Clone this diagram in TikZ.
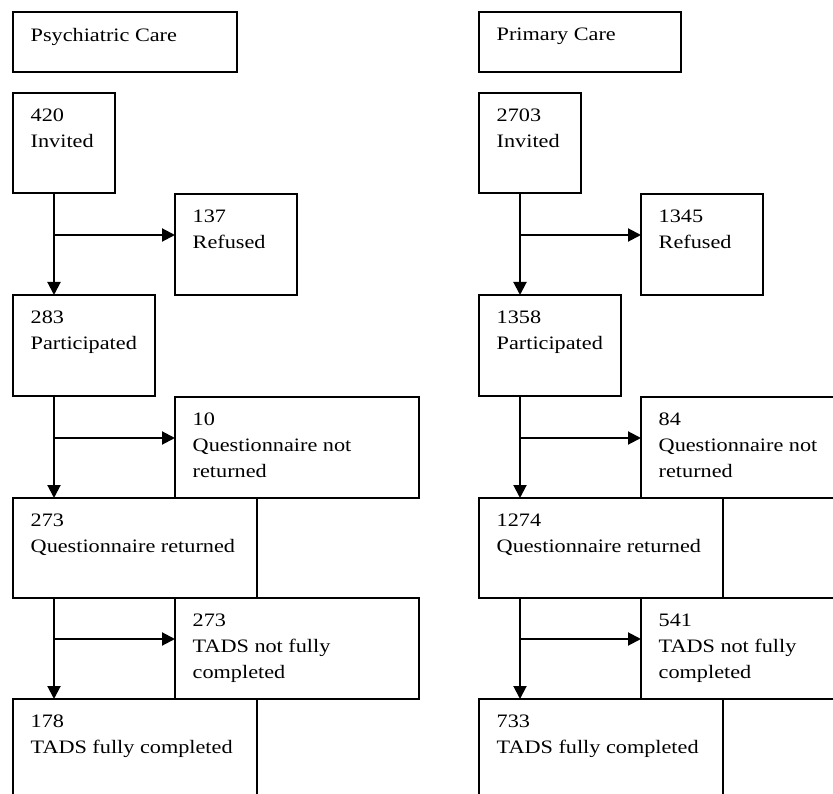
\documentclass[tikz,border=0pt]{standalone}
\usepackage{fontspec}
\setmainfont{Liberation Serif}[FakeStretch=1.17]
\usetikzlibrary{arrows.meta}
\tikzset{
  box/.style={draw, line width=1.4pt, anchor=north west, inner sep=0pt, outer sep=0pt},
  txt/.style={anchor=north west, align=left, inner sep=0pt, font=\fontsize{19}{26}\selectfont},
  flow/.style={-{Triangle[length=13pt,width=13pt]}, line width=2pt},
}
\begin{document}
\begin{tikzpicture}[x=1pt,y=-1pt]
\useasboundingbox (0,0) rectangle (833,794);
\clip (0,0) rectangle (833,794);
% psychiatric care
\node[box, minimum width=224pt, minimum height=60pt] (head1) at (13,12) {};
\node[box, minimum width=102pt, minimum height=100pt] (inv1) at (13,93) {};
\node[box, minimum width=122pt, minimum height=101pt] (ref1) at (175,194) {};
\node[box, minimum width=142pt, minimum height=101pt] (part1) at (13,295) {};
\node[box, minimum width=244pt, minimum height=101pt] (notret1) at (175,397) {};
\node[box, minimum width=244pt, minimum height=100pt] (ret1) at (13,498) {};
\node[box, minimum width=244pt, minimum height=101pt] (notcomp1) at (175,598) {};
\node[box, minimum width=244pt, minimum height=120pt] (comp1) at (13,699) {};
\node[txt] (head1t) at ([xshift=17.5pt,yshift=-16pt]head1.north west) {Psychiatric Care};
\node[txt] (inv1t) at ([xshift=17.5pt,yshift=-16pt]inv1.north west) {420\\Invited};
\node[txt] (ref1t) at ([xshift=17.5pt,yshift=-16pt]ref1.north west) {137\\Refused};
\node[txt] (part1t) at ([xshift=17.5pt,yshift=-16pt]part1.north west) {283\\Participated};
\node[txt] (notret1t) at ([xshift=17.5pt,yshift=-16pt]notret1.north west) {10\\Questionnaire not\\returned};
\node[txt] (ret1t) at ([xshift=17.5pt,yshift=-16pt]ret1.north west) {273\\Questionnaire returned};
\node[txt] (notcomp1t) at ([xshift=17.5pt,yshift=-16pt]notcomp1.north west) {273\\TADS not fully\\completed};
\node[txt] (comp1t) at ([xshift=17.5pt,yshift=-16pt]comp1.north west) {178\\TADS fully completed};
\coordinate (s1) at ([xshift=41pt]inv1.south west);
\coordinate (r1) at ([yshift=-41pt]ref1.north west);
\coordinate (r2) at ([yshift=-41pt]notret1.north west);
\coordinate (r3) at ([yshift=-41pt]notcomp1.north west);
\draw[flow] (s1) -- (s1 |- part1.north);
\draw[flow] (s1 |- part1.south) -- (s1 |- ret1.north);
\draw[flow] (s1 |- ret1.south) -- (s1 |- comp1.north);
\draw[flow] (s1 |- r1) -- (r1);
\draw[flow] (s1 |- r2) -- (r2);
\draw[flow] (s1 |- r3) -- (r3);
% primary care
\node[box, minimum width=202pt, minimum height=60pt] (head2) at (479,12) {};
\node[box, minimum width=102pt, minimum height=100pt] (inv2) at (479,93) {};
\node[box, minimum width=122pt, minimum height=101pt] (ref2) at (641,194) {};
\node[box, minimum width=142pt, minimum height=101pt] (part2) at (479,295) {};
\node[box, minimum width=244pt, minimum height=101pt] (notret2) at (641,397) {};
\node[box, minimum width=244pt, minimum height=100pt] (ret2) at (479,498) {};
\node[box, minimum width=244pt, minimum height=101pt] (notcomp2) at (641,598) {};
\node[box, minimum width=244pt, minimum height=120pt] (comp2) at (479,699) {};
\node[txt] (head2t) at ([xshift=17.5pt,yshift=-16pt]head2.north west) {Primary Care};
\node[txt] (inv2t) at ([xshift=17.5pt,yshift=-16pt]inv2.north west) {2703\\Invited};
\node[txt] (ref2t) at ([xshift=17.5pt,yshift=-16pt]ref2.north west) {1345\\Refused};
\node[txt] (part2t) at ([xshift=17.5pt,yshift=-16pt]part2.north west) {1358\\Participated};
\node[txt] (notret2t) at ([xshift=17.5pt,yshift=-16pt]notret2.north west) {84\\Questionnaire not\\returned};
\node[txt] (ret2t) at ([xshift=17.5pt,yshift=-16pt]ret2.north west) {1274\\Questionnaire returned};
\node[txt] (notcomp2t) at ([xshift=17.5pt,yshift=-16pt]notcomp2.north west) {541\\TADS not fully\\completed};
\node[txt] (comp2t) at ([xshift=17.5pt,yshift=-16pt]comp2.north west) {733\\TADS fully completed};
\coordinate (s2) at ([xshift=41pt]inv2.south west);
\coordinate (q1) at ([yshift=-41pt]ref2.north west);
\coordinate (q2) at ([yshift=-41pt]notret2.north west);
\coordinate (q3) at ([yshift=-41pt]notcomp2.north west);
\draw[flow] (s2) -- (s2 |- part2.north);
\draw[flow] (s2 |- part2.south) -- (s2 |- ret2.north);
\draw[flow] (s2 |- ret2.south) -- (s2 |- comp2.north);
\draw[flow] (s2 |- q1) -- (q1);
\draw[flow] (s2 |- q2) -- (q2);
\draw[flow] (s2 |- q3) -- (q3);
\end{tikzpicture}
\end{document}
